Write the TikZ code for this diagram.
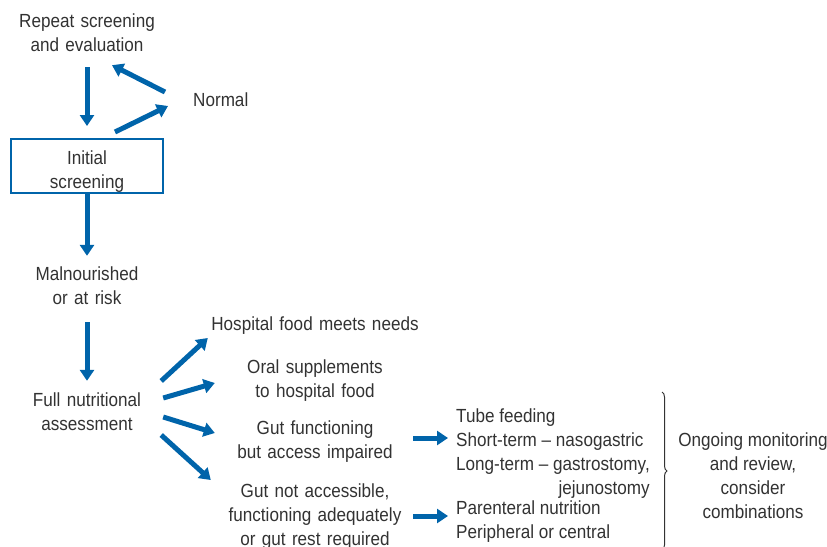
\documentclass[tikz,border=0pt]{standalone}
\usepackage{fontspec}
\setmainfont{Liberation Sans}[FakeStretch=0.9]
\usepackage{pgf,tikz}
\usetikzlibrary{arrows.meta}
\usetikzlibrary{calc,decorations.pathreplacing}
\usetikzlibrary{positioning}

\definecolor{flowblue}{RGB}{0,100,170}
\definecolor{txtgray}{RGB}{50,50,50}

\begin{document}
\begin{tikzpicture}[x=1pt,y=-1pt]

\tikzset{
  % plain text of the chart
  lbl/.style={inner sep=0pt, text=txtgray, align=center,
    font=\fontsize{19}{24}\selectfont},
  % left column and the options get a fixed width
  leftcol/.style={lbl, text width=150pt},
  option/.style={lbl, text width=210pt},
  % the one framed step
  stepbox/.style={lbl, draw=flowblue, line width=2pt,
    minimum width=152pt, minimum height=54pt},
  % thick blue arrow
  flow/.style={draw=flowblue, line width=5pt,
    -{Triangle[length=11pt,width=14pt]}},
}

\useasboundingbox (0,0) rectangle (827,546);

\node[leftcol] (repeat) at (87,33) {Repeat screening\\and evaluation};
\node[lbl, anchor=west] (normal) at (193,100) {Normal};
\node[stepbox] (init) at (87,166) {\rule{0pt}{24pt}Initial\\screening};
\node[leftcol] (mal) at (87,286) {Malnourished\\or at risk};
\node[leftcol] (full) at (87,412) {Full nutritional\\assessment};

\node[option] (hosp) at (315,326) {Hospital food meets needs};
\node[option] (oral) at (315,381) {Oral supplements\\to hospital food};
\node[option] (gutf) at (315,442) {Gut functioning\\but access impaired};
\node[option] (gutn) at (315,517) {Gut not accessible,\\functioning adequately\\or gut rest required};

\node[lbl, anchor=west] (tube) at (456,454) {%
  \begin{tabular}{@{}l@{}}
  Tube feeding\\
  Short-term -- nasogastric\\
  Long-term -- gastrostomy,\\
  \multicolumn{1}{@{}r@{}}{jejunostomy}
  \end{tabular}};
\node[lbl, anchor=west] (paren) at (456,522) {%
  \begin{tabular}{@{}l@{}}
  Parenteral nutrition\\
  Peripheral or central
  \end{tabular}};
\node[lbl] (ongo) at (753,476) {Ongoing monitoring\\and review,\\consider\\combinations};

% screening loop
\draw[flow] ([yshift=-15pt]repeat.south) -- ([yshift=12pt]init.north);
\draw[flow] ([xshift=-28pt,yshift=8pt]normal.west) -- ([xshift=25pt,yshift=-13pt]repeat.south);
\draw[flow] ([xshift=28pt,yshift=6pt]init.north) -- ([xshift=-25pt,yshift=-6pt]normal.west);

\draw[flow] (init.south) -- ([yshift=11pt]mal.north);
\draw[flow] ([yshift=-17pt]mal.south) -- ([yshift=12pt]full.north);

% options after assessment
\draw[flow] ([xshift=-1pt,yshift=31pt]full.east) -- ([xshift=-2pt,yshift=-12pt]hosp.west);
\draw[flow] ([xshift=1pt,yshift=14pt]full.east) -- ([xshift=5pt,yshift=-2pt]oral.west);
\draw[flow] ([xshift=1pt,yshift=-5pt]full.east) -- ([xshift=5pt,yshift=9pt]gutf.west);
\draw[flow] ([xshift=-1pt,yshift=-23pt]full.east) -- ([xshift=1pt,yshift=37pt]gutn.west);

\draw[flow] ([xshift=-7pt,yshift=4pt]gutf.east) -- ([xshift=-8pt,yshift=4pt]tube.west |- gutf.east);
\draw[flow] ([xshift=-7pt,yshift=1pt]gutn.east) -- ([xshift=-8pt,yshift=1pt]paren.west |- gutn.east);

\draw[line width=1pt, black!80, decorate, decoration={brace, amplitude=5pt}] (662,392) -- (662,550);

\end{tikzpicture}
\end{document}
